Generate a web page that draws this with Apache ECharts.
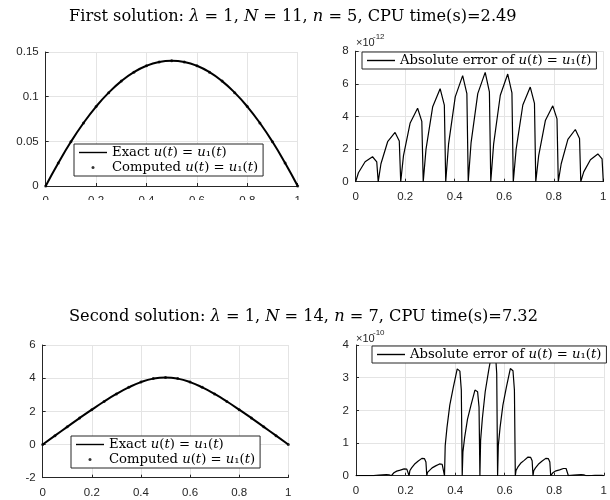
<!DOCTYPE html>
<html>
<head>
<meta charset="utf-8">
<script src="https://cdn.jsdelivr.net/npm/echarts@6/dist/echarts.min.js"></script>
<style>
  html, body { margin: 0; padding: 0; background: #fff; }
  #chart { width: 610px; height: 500px; }
</style>
</head>
<body>
<div id="chart"></div>
<script>
// sample points for the exact / computed solutions
const tGrid = [0, 0.05, 0.1, 0.15, 0.2, 0.25, 0.3, 0.35, 0.4, 0.45, 0.5,
               0.55, 0.6, 0.65, 0.7, 0.75, 0.8, 0.85, 0.9, 0.95, 1];
const u1First = [0, 0.0257, 0.0495, 0.0705, 0.0889, 0.1045, 0.1174, 0.1274, 0.1346, 0.1389, 0.1403,
                 0.1389, 0.1346, 0.1274, 0.1174, 0.1045, 0.0889, 0.0705, 0.0495, 0.0257, 0];
const u1Second = [0, 0.536, 1.067, 1.592, 2.103, 2.592, 3.047, 3.446, 3.765, 3.973, 4.046,
                  3.973, 3.765, 3.446, 3.047, 2.592, 2.103, 1.592, 1.067, 0.536, 0];

// absolute error, first solution (units of 1e-12)
const err1T = [0, 0.011, 0.038, 0.068, 0.085,
  0.0909, 0.102, 0.129, 0.159, 0.176,
  0.1818, 0.193, 0.220, 0.250, 0.267,
  0.2727, 0.284, 0.311, 0.341, 0.358,
  0.3636, 0.375, 0.402, 0.432, 0.449,
  0.4545, 0.466, 0.493, 0.523, 0.540,
  0.5455, 0.557, 0.584, 0.614, 0.631,
  0.6364, 0.648, 0.675, 0.705, 0.722,
  0.7273, 0.739, 0.766, 0.796, 0.813,
  0.8182, 0.830, 0.857, 0.887, 0.904,
  0.9091, 0.921, 0.948, 0.978, 0.995,
  1];
const err1V = [0, 0.55, 1.22, 1.53, 1.22,
  0, 1.1, 2.45, 3.02, 2.5,
  0, 1.6, 3.6, 4.5, 3.7,
  0, 2.0, 4.6, 5.7, 4.7,
  0, 2.3, 5.2, 6.5, 5.4,
  0, 2.4, 5.4, 6.7, 5.5,
  0, 2.3, 5.3, 6.6, 5.45,
  0, 2.0, 4.7, 5.8, 4.8,
  0, 1.6, 3.75, 4.65, 3.85,
  0, 1.1, 2.6, 3.2, 2.65,
  0, 0.6, 1.35, 1.7, 1.4,
  0];

// absolute error, second solution (units of 1e-10)
const err2T = [
  0, 0.0029, 0.0100, 0.0214, 0.0357, 0.0514, 0.0621, 0.0679,
  0.0714, 0.0743, 0.0814, 0.0928, 0.1071, 0.1228, 0.1335, 0.1393,
  0.1429, 0.1458, 0.1529, 0.1643, 0.1786, 0.1943, 0.2050, 0.2108,
  0.2143, 0.2172, 0.2243, 0.2357, 0.2500, 0.2657, 0.2764, 0.2822,
  0.2857, 0.2886, 0.2957, 0.3071, 0.3214, 0.3371, 0.3478, 0.3536,
  0.3571, 0.3600, 0.3671, 0.3785, 0.3928, 0.4085, 0.4192, 0.4250,
  0.4286, 0.4315, 0.4386, 0.4500, 0.4643, 0.4800, 0.4907, 0.4965,
  0.5000, 0.5029, 0.5100, 0.5214, 0.5357, 0.5514, 0.5621, 0.5679,
  0.5714, 0.5743, 0.5814, 0.5928, 0.6071, 0.6228, 0.6335, 0.6393,
  0.6429, 0.6458, 0.6529, 0.6643, 0.6786, 0.6943, 0.7050, 0.7108,
  0.7143, 0.7172, 0.7243, 0.7357, 0.7500, 0.7657, 0.7764, 0.7822,
  0.7857, 0.7886, 0.7957, 0.8071, 0.8214, 0.8371, 0.8478, 0.8536,
  0.8571, 0.8600, 0.8671, 0.8785, 0.8928, 0.9085, 0.9192, 0.9250,
  0.9286, 0.9315, 0.9386, 0.9500, 0.9643, 0.9800, 0.9907, 0.9965,
  1];
const err2V = [
  0, 0.0014, 0.0023, 0.0033, 0.0042, 0.005, 0.0049, 0.004,
  0, 0.008, 0.014, 0.02, 0.025, 0.03, 0.029, 0.024,
  0, 0.06, 0.09, 0.14, 0.17, 0.21, 0.2, 0.17,
  0, 0.15, 0.24, 0.35, 0.44, 0.53, 0.52, 0.42,
  0, 0.1, 0.16, 0.24, 0.3, 0.36, 0.35, 0.29,
  0, 0.92, 1.47, 2.16, 2.71, 3.27, 3.2, 2.62,
  0, 0.73, 1.18, 1.73, 2.17, 2.62, 2.57, 2.1,
  0, 1.09, 1.76, 2.57, 3.24, 3.9, 3.82, 3.12,
  0, 0.92, 1.48, 2.16, 2.72, 3.28, 3.21, 2.62,
  0, 0.16, 0.26, 0.38, 0.47, 0.57, 0.56, 0.46,
  0, 0.15, 0.24, 0.35, 0.44, 0.53, 0.52, 0.42,
  0, 0.06, 0.1, 0.15, 0.18, 0.22, 0.22, 0.18,
  0, 0.008, 0.014, 0.02, 0.025, 0.03, 0.029, 0.024,
  0, 0.003, 0.0045, 0.0066, 0.0083, 0.01, 0.0098, 0.008,
  0];

const xTicks = [0, 1, 0.2];          // min, max, step
const yTicks = [[0, 0.15, 0.05], [0, 8, 2], [-2, 6, 2], [0, 4, 1]];

const serif = '"DejaVu Serif", "Liberation Serif", serif';
const sans = '"Liberation Sans", Arial, sans-serif';
const axisColor = '#262626';

function pairs(xs, ys) {
  return xs.map((x, i) => [x, ys[i]]);
}

const grids = [
  {left: 45.7, top: 52, width: 252, height: 134},
  {left: 355.7, top: 51.2, width: 247.6, height: 130.5},
  {left: 42.7, top: 345, width: 245.6, height: 132.7},
  {left: 356, top: 345, width: 256, height: 130.7}
];

const xAxes = grids.map((g, i) => ({
  type: 'value', gridIndex: i, min: xTicks[0], max: xTicks[1], interval: xTicks[2],
  axisLine: {show: true, onZero: false, lineStyle: {color: axisColor, width: 1}},
  axisTick: {show: true, inside: true, length: 3, lineStyle: {color: axisColor}},
  axisLabel: {color: axisColor, fontFamily: sans, fontSize: 11.5, margin: 9},
  splitLine: {show: true, lineStyle: {color: '#e4e4e4', width: 1}}
}));

const yAxes = grids.map((g, i) => ({
  type: 'value', gridIndex: i, min: yTicks[i][0], max: yTicks[i][1], interval: yTicks[i][2],
  axisLine: {show: true, lineStyle: {color: axisColor, width: 1}},
  axisTick: {show: true, inside: true, length: 3, lineStyle: {color: axisColor}},
  axisLabel: {color: axisColor, fontFamily: sans, fontSize: 11.5, margin: 7},
  splitLine: {show: true, lineStyle: {color: '#e4e4e4', width: 1}}
}));

const richMath = {
  n: {fontFamily: serif, fontSize: 13.2, color: '#000', lineHeight: 17},
  i: {fontFamily: serif, fontSize: 13.2, color: '#000', fontStyle: 'italic', lineHeight: 17}
};
const uEq = '{i|u}{n|(}{i|t}{n|) = }{i|u}{n|\u2081(}{i|t}{n|)}';
const legendText = {
  exact1: '{n|Exact }' + uEq,
  comp1: '{n|Computed }' + uEq,
  exact2: '{n|Exact }' + uEq,
  comp2: '{n|Computed }' + uEq,
  err1: '{n|Absolute error of }' + uEq,
  err2: '{n|Absolute error of }' + uEq
};
const lineIcon = 'path://M0,0H40V2H0Z';

function legendAt(left, top, names) {
  return {
    left: left, top: top, orient: 'vertical',
    data: names.map(n => ({name: n, icon: n.indexOf('comp') === 0 ? 'circle' : lineIcon})),
    itemWidth: 28, itemHeight: 3, itemGap: 2,
    padding: [2, 5, 2, 5],
    borderColor: axisColor, borderWidth: 1, backgroundColor: '#fff',
    selectedMode: false,
    formatter: name => legendText[name],
    textStyle: {rich: richMath}
  };
}

const titleRich = {
  r: {fontFamily: serif, fontSize: 16.2, color: '#000', fontWeight: 'normal'},
  i: {fontFamily: serif, fontSize: 16.2, color: '#000', fontStyle: 'italic', fontWeight: 'normal'}
};

const option = {
  animation: false,
  backgroundColor: '#fff',
  title: [
    {left: 64, top: 4, text: '{r|First solution: }{i|\u03bb}{r| = 1, }{i|N}{r| = 11, }{i|n}{r| = 5, CPU time(s)=2.49}',
     textStyle: {fontWeight: 'normal', rich: titleRich}},
    {left: 64, top: 304, text: '{r|Second solution: }{i|\u03bb}{r| = 1, }{i|N}{r| = 14, }{i|n}{r| = 7, CPU time(s)=7.32}',
     textStyle: {fontWeight: 'normal', rich: titleRich}}
  ],
  grid: grids,
  xAxis: xAxes,
  yAxis: yAxes,
  legend: [
    legendAt(74, 144, ['exact1', 'comp1']),
    legendAt(362, 52, ['err1']),
    legendAt(71, 436, ['exact2', 'comp2']),
    legendAt(372, 346, ['err2'])
  ],
  series: [
    {type: 'line', name: 'exact1', xAxisIndex: 0, yAxisIndex: 0, data: pairs(tGrid, u1First),
     symbol: 'none', smooth: true, lineStyle: {color: '#000', width: 2}, itemStyle: {color: '#000'}},
    {type: 'scatter', name: 'comp1', xAxisIndex: 0, yAxisIndex: 0, data: pairs(tGrid, u1First),
     symbolSize: 3, itemStyle: {color: '#000'}},
    {type: 'line', name: 'err1', xAxisIndex: 1, yAxisIndex: 1, data: pairs(err1T, err1V),
     symbol: 'none', lineStyle: {color: '#000', width: 1.2}, itemStyle: {color: '#000'}},
    {type: 'line', name: 'exact2', xAxisIndex: 2, yAxisIndex: 2, data: pairs(tGrid, u1Second),
     symbol: 'none', smooth: true, lineStyle: {color: '#000', width: 2}, itemStyle: {color: '#000'}},
    {type: 'scatter', name: 'comp2', xAxisIndex: 2, yAxisIndex: 2, data: pairs(tGrid, u1Second),
     symbolSize: 3, itemStyle: {color: '#000'}},
    {type: 'line', name: 'err2', xAxisIndex: 3, yAxisIndex: 3, data: pairs(err2T, err2V),
     symbol: 'none', lineStyle: {color: '#000', width: 1.2}, itemStyle: {color: '#000'}}
  ],
  graphic: [
    // the x tick labels of the first panel are cut off in the original figure
    {type: 'rect', left: 0, top: 200, z: 100, shape: {width: 305, height: 40}, style: {fill: '#fff'}},
    {type: 'text', left: 356, top: 37, style: {text: '\u00d710', font: '11px ' + sans, fill: axisColor}},
    {type: 'text', left: 373, top: 33, style: {text: '-12', font: '8px ' + sans, fill: axisColor}},
    {type: 'text', left: 356, top: 333, style: {text: '\u00d710', font: '11px ' + sans, fill: axisColor}},
    {type: 'text', left: 373, top: 329, style: {text: '-10', font: '8px ' + sans, fill: axisColor}}
  ]
};

const chart = echarts.init(document.getElementById('chart'));
chart.setOption(option);
</script>
</body>
</html>
